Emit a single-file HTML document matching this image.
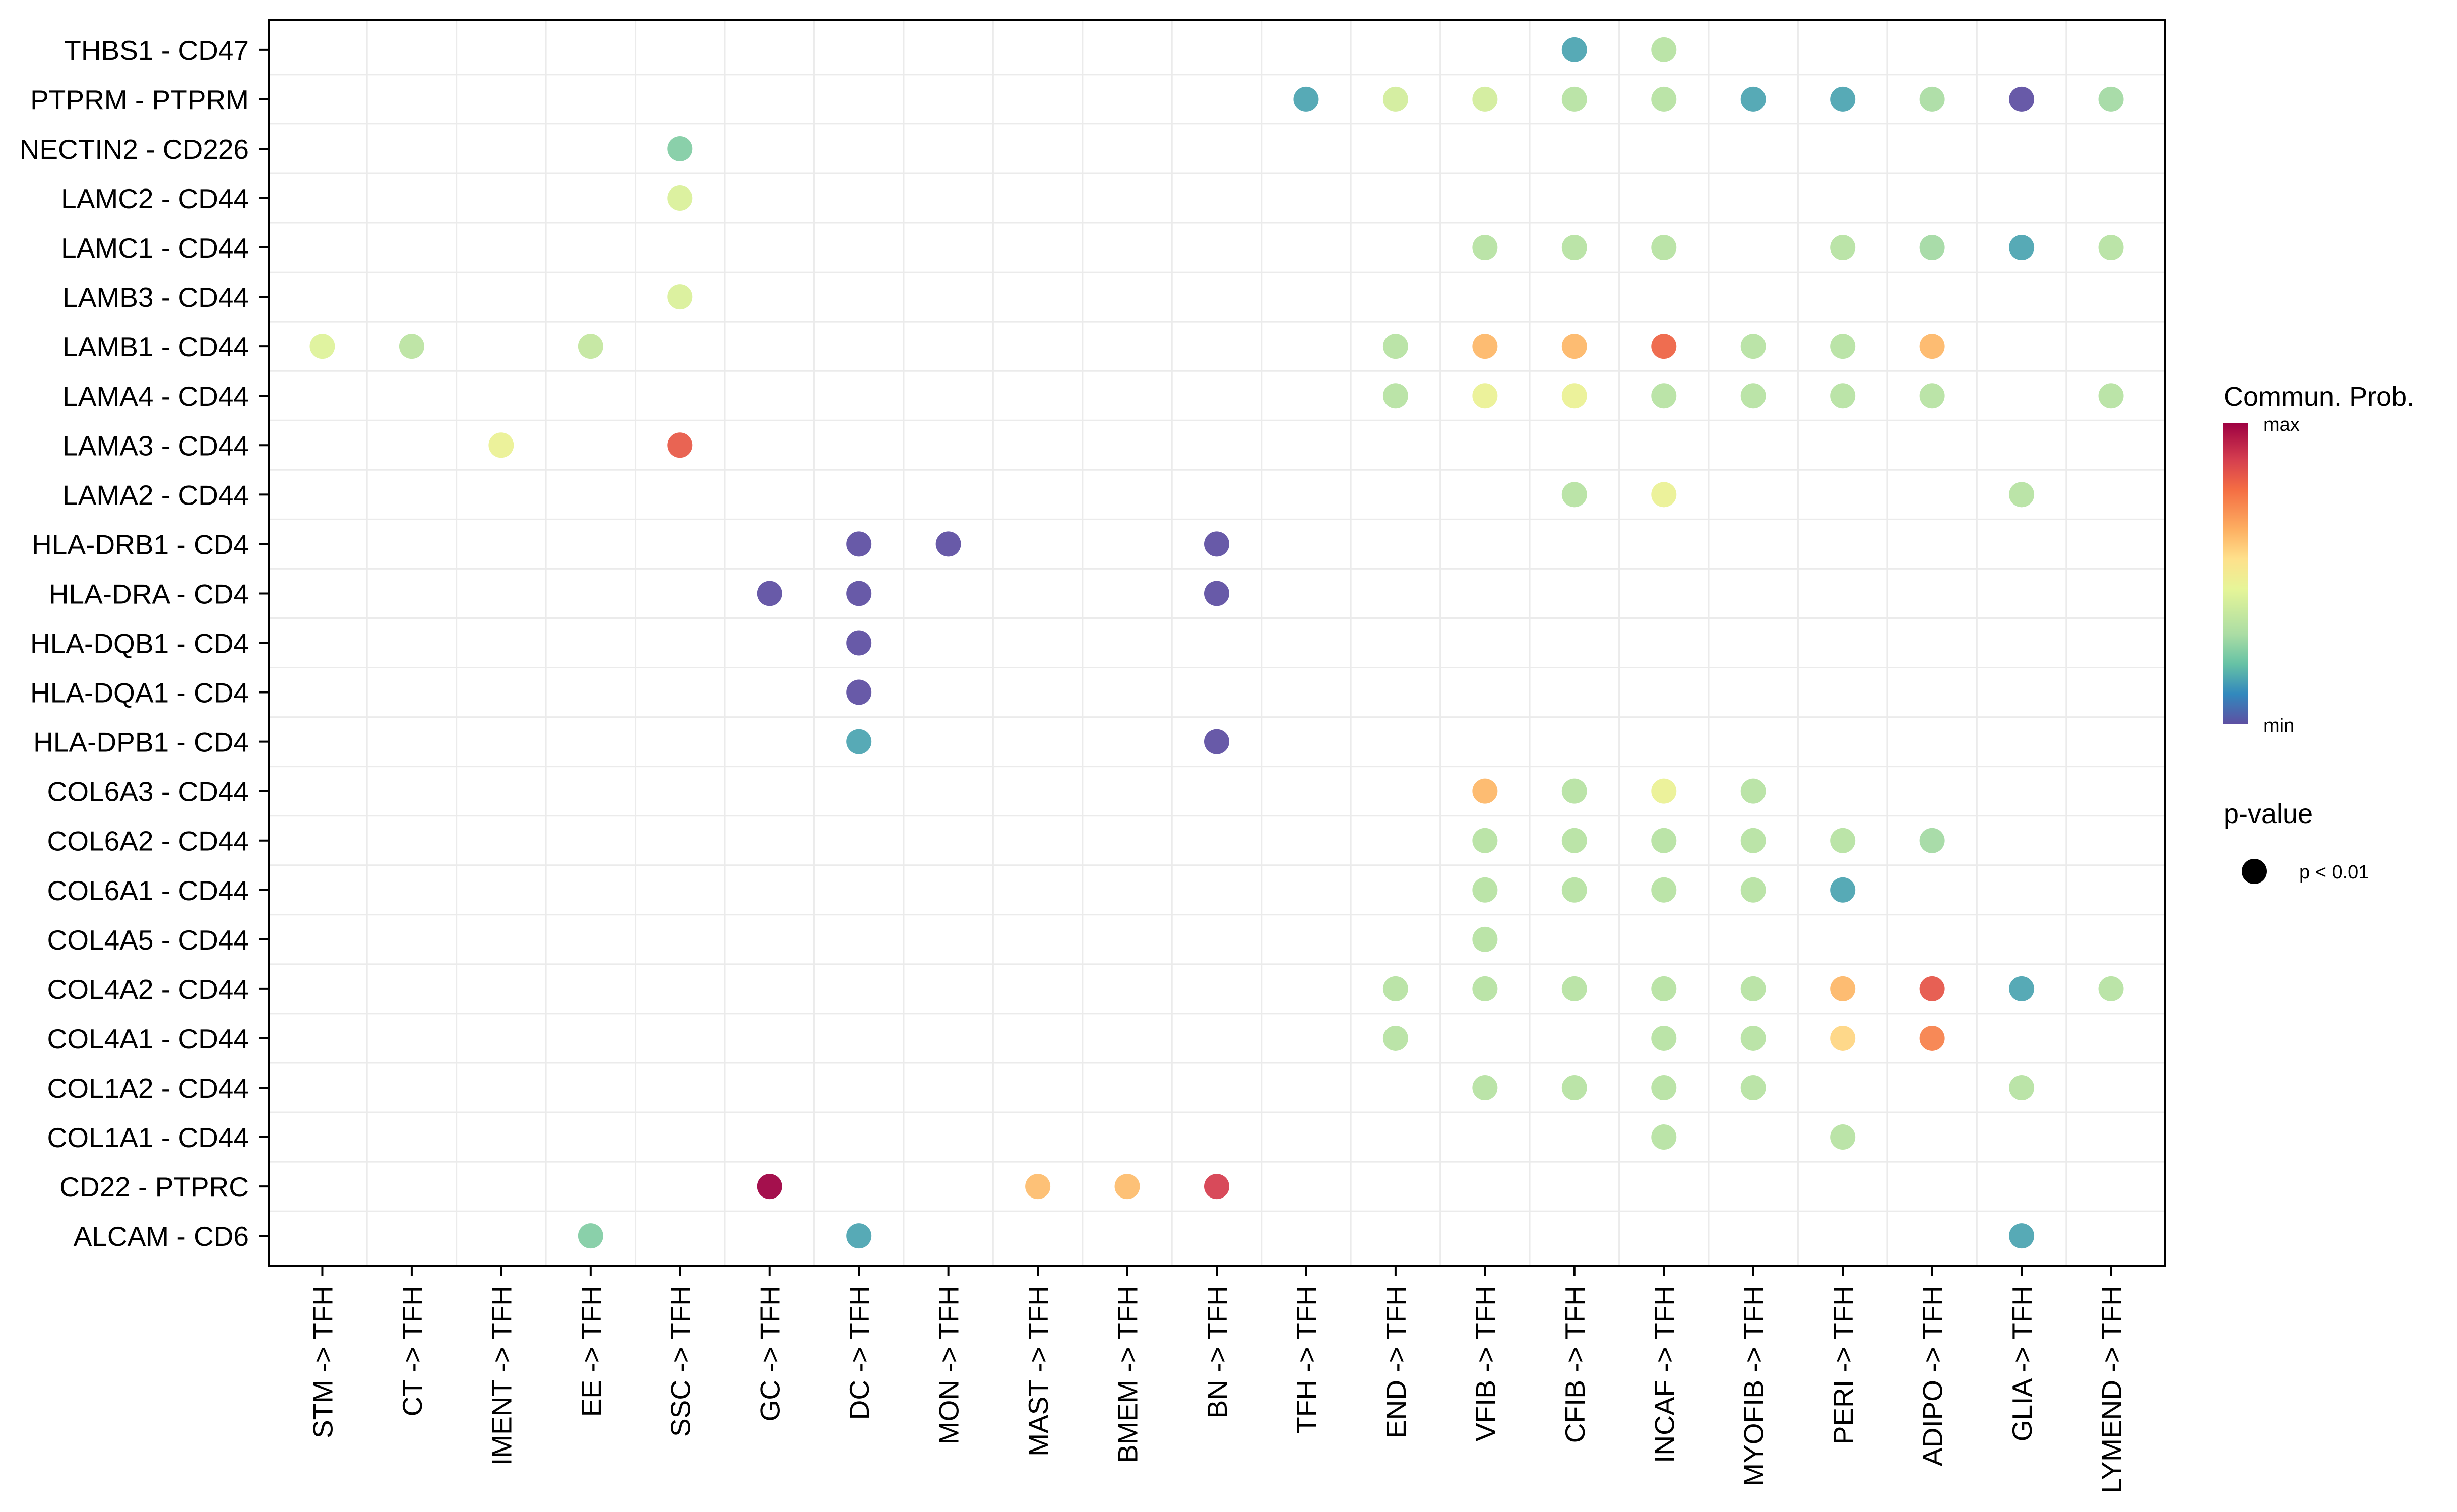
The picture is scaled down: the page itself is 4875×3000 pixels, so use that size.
<!DOCTYPE html>
<html><head><meta charset="utf-8"><style>
html,body{margin:0;padding:0;background:#fff;}
svg{display:block;font-family:"Liberation Sans",Arial,sans-serif;}
</style></head><body>
<svg id="chart" width="4875" height="3000" viewBox="0 0 4875 3000">
<defs>
<linearGradient id="spec" x1="0" y1="1" x2="0" y2="0">
<stop offset="0" stop-color="#5E4FA2"/><stop offset="0.1" stop-color="#3288BD"/><stop offset="0.2" stop-color="#66C2A5"/><stop offset="0.3" stop-color="#ABDDA4"/><stop offset="0.45" stop-color="#E6F598"/><stop offset="0.55" stop-color="#FEE08B"/><stop offset="0.65" stop-color="#FDAE61"/><stop offset="0.78" stop-color="#F46D43"/><stop offset="0.88" stop-color="#D53E4F"/><stop offset="1" stop-color="#9E0142"/>
</linearGradient>
</defs>
<g id="grid"></g>
<g id="dots"></g>
<rect x="533" y="40" width="3762" height="2471" fill="none" stroke="#000" stroke-width="4"/>
<g id="yaxis"></g>
<g id="xaxis"></g>
<g>
<text x="4412" y="805" font-size="54">Commun. Prob.</text>
<rect x="4411" y="840" width="50" height="597" fill="url(#spec)"/>
<text x="4491" y="855" font-size="38">max</text>
<text x="4491" y="1452" font-size="38">min</text>
</g>
<g>
<text x="4412" y="1633" font-size="54">p-value</text>
<circle cx="4473" cy="1729" r="25" fill="#000"/>
<text x="4562" y="1743" font-size="38">p &lt; 0.01</text>
</g>
</svg>
<script>
const xCategories = ["STM -> TFH","CT -> TFH","IMENT -> TFH","EE -> TFH","SSC -> TFH","GC -> TFH","DC -> TFH","MON -> TFH","MAST -> TFH","BMEM -> TFH","BN -> TFH","TFH -> TFH","END -> TFH","VFIB -> TFH","CFIB -> TFH","INCAF -> TFH","MYOFIB -> TFH","PERI -> TFH","ADIPO -> TFH","GLIA -> TFH","LYMEND -> TFH"];
const yCategories = ["THBS1 - CD47","PTPRM - PTPRM","NECTIN2 - CD226","LAMC2 - CD44","LAMC1 - CD44","LAMB3 - CD44","LAMB1 - CD44","LAMA4 - CD44","LAMA3 - CD44","LAMA2 - CD44","HLA-DRB1 - CD4","HLA-DRA - CD4","HLA-DQB1 - CD4","HLA-DQA1 - CD4","HLA-DPB1 - CD4","COL6A3 - CD44","COL6A2 - CD44","COL6A1 - CD44","COL4A5 - CD44","COL4A2 - CD44","COL4A1 - CD44","COL1A2 - CD44","COL1A1 - CD44","CD22 - PTPRC","ALCAM - CD6"];
// each point: [xIndex, yIndex, prob (0=min..1=max)]
const points = [
[14,0,0.15],[15,0,0.33],
[11,1,0.15],[12,1,0.4],[13,1,0.4],[14,1,0.33],[15,1,0.33],[16,1,0.15],[17,1,0.15],[18,1,0.3],[19,1,0.0],[20,1,0.29],
[4,2,0.24],
[4,3,0.42],
[13,4,0.33],[14,4,0.33],[15,4,0.33],[17,4,0.33],[18,4,0.29],[19,4,0.15],[20,4,0.33],
[4,5,0.42],
[0,6,0.43],[1,6,0.34],[3,6,0.36],[12,6,0.33],[13,6,0.63],[14,6,0.63],[15,6,0.8],[16,6,0.33],[17,6,0.33],[18,6,0.63],
[12,7,0.33],[13,7,0.47],[14,7,0.47],[15,7,0.33],[16,7,0.33],[17,7,0.33],[18,7,0.33],[20,7,0.33],
[2,8,0.47],[4,8,0.82],
[14,9,0.33],[15,9,0.47],[19,9,0.33],
[6,10,0.0],[7,10,0.0],[10,10,0.0],
[5,11,0.0],[6,11,0.0],[10,11,0.0],
[6,12,0.0],
[6,13,0.0],
[6,14,0.15],[10,14,0.0],
[13,15,0.63],[14,15,0.33],[15,15,0.47],[16,15,0.33],
[13,16,0.33],[14,16,0.33],[15,16,0.33],[16,16,0.33],[17,16,0.33],[18,16,0.29],
[13,17,0.33],[14,17,0.33],[15,17,0.33],[16,17,0.33],[17,17,0.15],
[13,18,0.33],
[12,19,0.33],[13,19,0.33],[14,19,0.33],[15,19,0.33],[16,19,0.33],[17,19,0.63],[18,19,0.83],[19,19,0.15],[20,19,0.33],
[12,20,0.33],[15,20,0.33],[16,20,0.33],[17,20,0.57],[18,20,0.74],
[13,21,0.33],[14,21,0.33],[15,21,0.33],[16,21,0.33],[19,21,0.33],
[15,22,0.33],[17,22,0.33],
[5,23,1.0],[8,23,0.62],[9,23,0.62],[10,23,0.88],
[3,24,0.24],[6,24,0.15],[19,24,0.15]
];
const NS="http://www.w3.org/2000/svg";
const L=533,R=4295,T=40,B=2511;
const dx=(R-L)/(xCategories.length-1+1.2), dy=(B-T)/(yCategories.length-1+1.2);
function xs(i){return L+(0.6+i)*dx;}
function ys(j){return T+(0.6+j)*dy;}
const stopPos=[0,0.1,0.2,0.3,0.45,0.55,0.65,0.78,0.88,1];
const stops=["#5E4FA2","#3288BD","#66C2A5","#ABDDA4","#E6F598","#FEE08B","#FDAE61","#F46D43","#D53E4F","#9E0142"];
function hex(h){return [1,3,5].map(k=>parseInt(h.substr(k,2),16));}
function color(v){v=Math.max(0,Math.min(1,v));let i=0;while(i<stopPos.length-2&&v>stopPos[i+1])i++;
const t=(v-stopPos[i])/(stopPos[i+1]-stopPos[i]);const a=hex(stops[i]),b=hex(stops[i+1]);
const c=a.map((x,k)=>Math.round(x+(b[k]-x)*t));const w=0.06;return "rgb("+c.map(x=>Math.round(x+(255-x)*w)).join(",")+")";}
function mk(tag,attrs,parent){const e=document.createElementNS(NS,tag);for(const k in attrs)e.setAttribute(k,attrs[k]);parent.appendChild(e);return e;}
const grid=document.getElementById('grid');
for(let i=0;i<xCategories.length-1;i++){const x=(xs(i)+xs(i+1))/2;
const ln=mk('line',{x1:x,x2:x,y1:T,y2:B,stroke:'#EBEBEB','stroke-width':3},grid);

}
for(let j=0;j<yCategories.length-1;j++){const y=(ys(j)+ys(j+1))/2;
const ln=mk('line',{x1:L,x2:R,y1:y,y2:y,stroke:'#EBEBEB','stroke-width':3},grid);

}
const dots=document.getElementById('dots');
points.forEach(p=>{const c=mk('circle',{cx:xs(p[0]),cy:ys(p[1]),r:25,fill:color(p[2])},dots);

});
const ya=document.getElementById('yaxis');
yCategories.forEach((s,j)=>{const y=ys(j);
const tk=mk('line',{x1:L-20,x2:L,y1:y,y2:y,stroke:'#000','stroke-width':4},ya);


const t=mk('text',{x:494,y:y+20,'font-size':55,'text-anchor':'end'},ya);t.textContent=s;

});
const xa=document.getElementById('xaxis');
xCategories.forEach((s,i)=>{const x=xs(i);
const tk=mk('line',{x1:x,x2:x,y1:B,y2:B+20,stroke:'#000','stroke-width':4},xa);


const t=mk('text',{x:0,y:0,'font-size':55,'text-anchor':'end',transform:'translate('+(x+20)+',2551) rotate(-90)'},xa);t.textContent=s;

});
</script>
</body></html>
